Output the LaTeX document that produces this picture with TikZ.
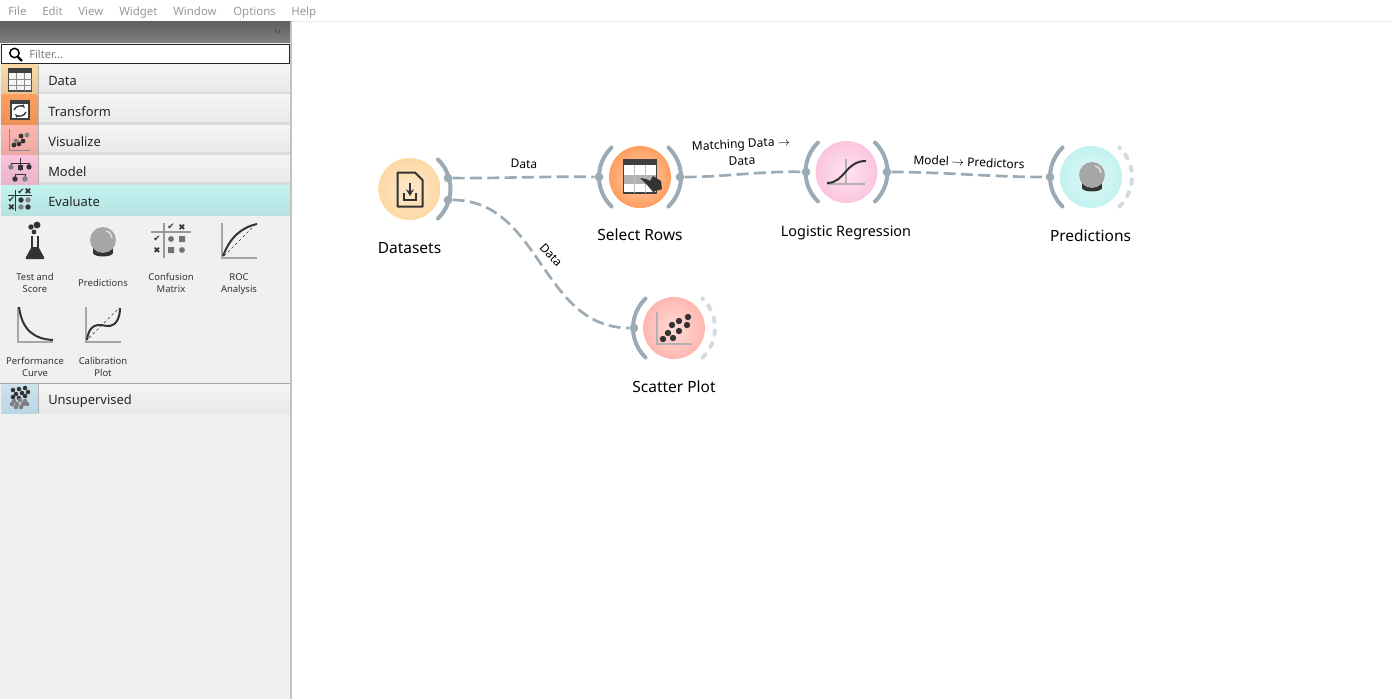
\documentclass[tikz,border=0pt]{standalone}
\usepackage{amsmath}
\usepackage{amssymb}
\usepackage{fontspec}
\setmainfont{Noto Sans}
\newfontfamily\marksfont{DejaVu Sans}
\usepackage{tikz}
\usetikzlibrary{positioning, arrows.meta, shapes.geometric, calc}

\definecolor{channel}{HTML}{9BABB5}
\definecolor{dimchannel}{HTML}{D3DBDF}
\definecolor{ink}{HTML}{333333}
\definecolor{catdata}{HTML}{FDD8A4}
\definecolor{cattransform}{HTML}{FF9E5E}
\definecolor{catvisualize}{HTML}{FFB7B0}
\definecolor{catmodel}{HTML}{FBC2DC}
\definecolor{catevaluate}{HTML}{C2F2F0}
\definecolor{catunsup}{HTML}{BAD6E6}

\tikzset{
    widget/.style={circle, minimum size=46.5pt, inner sep=0pt},
    channelarc/.style={draw=channel, line width=3pt, line cap=round},
    dimarc/.style={draw=dimchannel, line width=3pt, line cap=round, dash pattern=on 3.2pt off 6.6pt},
    link/.style={draw=channel, line width=2pt, dash pattern=on 9pt off 4pt},
    port/.style={circle, fill=channel, minimum size=6.5pt, inner sep=0pt},
    linktext/.style={font=\fontsize{9}{11}\selectfont, text=black, inner sep=0pt},
    widgettext/.style={font=\fontsize{11.6}{14}\selectfont, text=black, inner sep=0pt, anchor=base},
    menutext/.style={font=\fontsize{8.6}{10}\selectfont, text=black!40, inner sep=0pt, anchor=base west},
    cattext/.style={font=\fontsize{9.7}{12}\selectfont, text=black!85, anchor=base west, inner sep=0pt},
    tooltext/.style={font=\fontsize{7.1}{9}\selectfont, text=black!80, align=center, inner sep=0pt, anchor=base},
    marktext/.style={font=\marksfont\fontsize{6.5}{7}\selectfont, text=ink, inner sep=0pt},
    axisline/.style={draw=black!35, line width=1.5pt},
    curveline/.style={draw=ink, line width=1.5pt},
}

% crystal ball, (#1,#2) is its centre
\newcommand{\crystalball}[2]{
    \fill[ink] (#1-10,#2+8) rectangle (#1+10,#2+13);
    \fill[ink] (#1,#2+13) ellipse (7.5pt and 2.6pt);
    \fill[black!35] (#1,#2) circle (9.7pt);
    \draw[white!70!black!35, line width=1pt] (#1+3,#2-9) .. controls (#1+7,#2-8) and (#1+9,#2-5) .. (#1+9,#2-2);
}

\begin{document}
\begin{tikzpicture}[x=0.75pt, y=-0.75pt]
    \useasboundingbox[fill=white] (0,0) rectangle (1392,699);

    % Menu
    \draw[black!8] (0,21.5) -- (1392,21.5);
    \foreach \x/\word in {8/File, 42/Edit, 78/View, 119/Widget, 173/Window, 233/Options, 291/Help}
        \node[menutext] (menu\word) at (\x,16) {\word};

    % Panel
    \fill[black!6] (0,22) rectangle (291,699);
    \shade[top color=black!62, bottom color=black!50] (0,22) rectangle (291,43);
    \node[font=\fontsize{8}{9}\selectfont, text=black!75, inner sep=0pt] (collapse) at (278,32) {‹‹};
    \draw[black!85, fill=white, line width=0.8pt] (1.5,44.5) rectangle (289.5,63.5);
    \draw[black, line width=1.1pt] (14.5,53) circle (3.5pt);
    \draw[black, line width=1.6pt] (18,57) -- (22,61);
    \node[font=\fontsize{8.4}{10}\selectfont, text=black!50, anchor=base west, inner sep=0pt] (filter) at (29,59) {Filter...};

    % Categories
    \foreach \y/\col/\word in {65/catdata/Data, 95/cattransform/Transform, 125/catvisualize/Visualize, 155/catmodel/Model} {
        \shade[top color=black!4, bottom color=black!9] (38,\y) rectangle (290,\y+30);
        \fill[black!14] (38,\y+27) rectangle (290,\y+30);
        \shade[top color=\col, bottom color=\col!92!black] (1,\y) rectangle (38,\y+30);
        \draw[black!30] (38.5,\y) -- (38.5,\y+30);
        \node[cattext] (cat\word) at (48,\y+21) {\word};
    }
    \shade[top color=black!4, bottom color=black!9] (38,384) rectangle (290,413);
    \shade[top color=catunsup!70, bottom color=catunsup] (1,384) rectangle (38,413);
    \draw[black!30] (38.5,384) -- (38.5,413);
    \node[cattext] (catUnsupervised) at (48,404) {Unsupervised};
    \shade[top color=catevaluate, bottom color=catevaluate!94!black] (1,185) rectangle (290,215);
    \node[cattext] (catEvaluate) at (48,206) {Evaluate};
    \draw[black!35] (0,383.5) -- (290,383.5);
    \fill[black!24] (290,22) rectangle (292,699);

    % Data icon
    \fill[black!4] (8.5,69) rectangle (31.5,91);
    \draw[black!70, line width=0.8pt] (8.5,69) rectangle (31.5,91);
    \fill[black!75] (8,68) rectangle (32,73);
    \foreach \x in {16,24} \draw[black!45] (\x,73) -- (\x,91);
    \foreach \y in {79,85} \draw[black!45] (8.5,\y) -- (31.5,\y);
    % Transform icon
    \draw[black!75, fill=white, line width=0.8pt] (11,101) rectangle (29,119);
    \fill[black!75] (10.5,100) rectangle (29.5,104);
    \draw[ink, line width=1pt, -{Stealth[length=3pt]}] (14,110) .. controls (15,106) and (22,105) .. (25,108);
    \draw[ink, line width=1pt, -{Stealth[length=3pt]}] (26,112) .. controls (25,116) and (18,117) .. (15,114);
    % Visualize icon
    \draw[black!45, line width=0.8pt] (9.5,129) -- (9.5,150.5) -- (30,150.5);
    \foreach \x/\y/\c in {14/145/ink, 19/144/ink, 23/141/ink, 21/136/ink, 27/135/black!50, 16/141/black!50}
        \fill[\c] (\x,\y) circle (1.8pt);
    % Model icon
    \draw[ink, line width=0.7pt] (20,158) -- (20,163) (11,166) -- (11,163) -- (29,163) -- (29,166) (20,163) -- (20,171) (15,178) -- (15,174) -- (25,174) -- (25,178);
    \fill[ink] (20,167) +(-2.5,-2.5) rectangle +(2.5,2.5);
    \foreach \x/\y/\c in {11/167/black!50, 29/167/ink, 15/179/ink, 25/179/black!50}
        \fill[\c] (\x,\y) circle (2pt);
    % Evaluate icon
    \draw[ink, line width=0.7pt] (15.5,190) -- (15.5,211) (8,195.5) -- (32,195.5);
    \node[marktext] (evalchecktop) at (21,191.5) {✔};
    \node[marktext] (evalcrosstop) at (28,191.5) {✖};
    \node[marktext] (evalcheckleft) at (11.5,200) {✔};
    \node[marktext] (evalcrossleft) at (11.5,207) {✖};
    \foreach \x/\y/\c in {21/200/ink, 28/200/black!50, 21/207/black!50, 28/207/ink}
        \fill[\c] (\x,\y) circle (2pt);
    % Unsupervised icon
    \foreach \x/\y in {13/390, 19/389, 25/388, 28/392, 22/393, 16/394, 13/397, 19/398, 25/396}
        \fill[ink] (\x,\y) circle (1.7pt);
    \foreach \x/\y in {14/401, 20/400, 25/401, 12/404, 17/404, 23/404, 27/404, 16/407, 21/407}
        \fill[black!50] (\x,\y) circle (1.7pt);

    % Test and Score
    \draw[ink, line width=0.8pt] (32,236) -- (32,248) (38,236) -- (38,248);
    \fill[ink, rounded corners=1pt] (31.5,247) -- (38.5,247) -- (45,259) -- (25,259) -- cycle;
    \foreach \x/\y/\r in {31/227/2, 37/225/2.6, 34/232/1.8} \fill[ink] (\x,\y) circle (\r pt);
    \node[tooltext] (tooltest) at (35,292) {Test and\\Score};
    % Predictions
    \crystalball{103}{240}
    \node[tooltext] (toolpred) at (103,286) {Predictions};
    % Confusion Matrix
    \draw[black!40, line width=1pt] (164,223) -- (164,258) (151,232) -- (191,232);
    \node[marktext] (confchecktop) at (171,227) {✔};
    \node[marktext] (confcrosstop) at (182,227) {✖};
    \node[marktext] (confcheckleft) at (157,239) {✔};
    \node[marktext] (confcrossleft) at (157,250) {✖};
    \fill[black!55] (171,239) circle (2.2pt) (182,250) circle (2.2pt);
    \fill[black!55] (179,236) rectangle (185,242) (168,247) rectangle (174,253);
    \node[tooltext] (toolconf) at (171,292) {Confusion\\Matrix};
    % ROC Analysis
    \draw[axisline] (222,223) -- (222,258) -- (257,258);
    \draw[curveline] (223,256) .. controls (230,238) and (240,228) .. (257,224);
    \draw[ink, dash pattern=on 2pt off 2pt] (224,256) -- (252,228);
    \node[tooltext] (toolroc) at (239,292) {ROC\\Analysis};
    % Performance Curve
    \draw[axisline] (18,307) -- (18,342) -- (53,342);
    \draw[curveline] (19,307) .. controls (22,330) and (34,339) .. (53,340);
    \node[tooltext] (toolperf) at (35,376) {Performance\\Curve};
    % Calibration Plot
    \draw[axisline] (86,307) -- (86,342) -- (121,342);
    \draw[curveline] (87,340) .. controls (90,318) and (104,327) .. (110,326) .. controls (116,325) and (120,318) .. (120,308);
    \draw[ink, dash pattern=on 2pt off 2pt] (89,338) -- (118,309);
    \node[tooltext] (toolcalib) at (103,376) {Calibration\\Plot};

    % Widgets
    \node[widget, inner color=catdata!55, outer color=catdata] (datasets) at (409.5,189) {};
    \node[widget, inner color=cattransform!45, outer color=cattransform] (selectrows) at (640,177) {};
    \node[widget, inner color=catmodel!45, outer color=catmodel!95] (regression) at (846.5,172) {};
    \node[widget, inner color=catevaluate!50, outer color=catevaluate] (predictions) at (1091,177) {};
    \node[widget, inner color=catvisualize!50, outer color=catvisualize] (scatter) at (674,328) {};

    \node[widgettext] (datasetsname) at (409.5,253) {Datasets};
    \node[widgettext] (selectrowsname) at (640,240) {Select Rows};
    \node[widgettext, font=\fontsize{10.8}{14}\selectfont] (regressionname) at (846,236) {Logistic Regression};
    \node[widgettext] (predictionsname) at (1090.5,241) {Predictions};
    \node[widgettext] (scattername) at (674,392) {Scatter Plot};

    % Channels
    \foreach \w in {selectrows, regression, predictions, scatter}
        \draw[channelarc] ([shift={(134:41)}]\w.center) arc (134:226:41);
    \foreach \w in {datasets, selectrows, regression}
        \draw[channelarc] ([shift={(46:41)}]\w.center) arc (46:-46:41);
    \foreach \w in {predictions, scatter}
        \draw[dimarc] ([shift={(46:41)}]\w.center) arc (46:-46:41);

    % Ports
    \node[port] (datasetstop) at (448,178) {};
    \node[port] (datasetsbottom) at (448,200) {};
    \node[port] (selectrowsin) at (599,177) {};
    \node[port] (selectrowsout) at (680,177) {};
    \node[port] (regressionin) at (806,172) {};
    \node[port] (regressionout) at (887,172) {};
    \node[port] (predictionsin) at (1050,177) {};
    \node[port] (scatterin) at (634,328) {};

    % Links
    \draw[link] (datasetstop) .. controls (500,178.5) and (550,176) .. (selectrowsin);
    \draw[link] (selectrowsout) .. controls (725,177) and (760,171) .. (regressionin);
    \draw[link] (regressionout) .. controls (945,172) and (990,177) .. (predictionsin);
    \draw[link] (datasetsbottom) .. controls (541,200) and (541,328) .. (scatterin);

    \node[linktext, rotate=-1] (linkone) at (524,164) {Data};
    \node[linktext, rotate=3] (linktwo) at (741,145) {Matching Data $\rightarrow$};
    \node[linktext, rotate=3] (linkthree) at (742,161) {Data};
    \node[linktext, rotate=-2.5] (linkfour) at (969,162) {Model $\rightarrow$ Predictors};
    \node[linktext, rotate=-47] (linkfive) at (551,255) {Data};

    % Datasets icon
    \draw[ink, line width=1.5pt, line join=round] (397.5,172.5) -- (415,172.5) -- (422.5,180) -- (422.5,206.5) -- (397.5,206.5) -- cycle;
    \draw[ink, line width=1.5pt] (404,193) -- (404,199.5) -- (416,199.5) -- (416,193);
    \draw[ink, line width=1.5pt, -{Stealth[length=5pt, width=6pt]}] (410,183) -- (410,196);
    % Select Rows icon
    \draw[black!75, fill=white, line width=1.1pt] (623.5,160) rectangle (656.5,193);
    \fill[black!75] (623,159) rectangle (657,165);
    \fill[black!30] (624,175) rectangle (656,184);
    \foreach \x in {634.5,645.5} \draw[black!25] (\x,165) -- (\x,193);
    \fill[ink] (640,178) -- (646,179) -- (650,181) -- (653,176) -- (661,181) -- (662,189) -- (653,192) -- (648,186) -- cycle;
    % Logistic Regression icon
    \draw[black!30, line width=1.5pt] (846,159) -- (846,184) (827,184) -- (865,184);
    \draw[ink, line width=1.5pt] (827,183) .. controls (845,183) and (845,161) .. (866,161);
    % Predictions icon
    \crystalball{1092}{175}
    % Scatter Plot icon
    \draw[black!30, line width=1.2pt] (657,312) -- (657,344) -- (692,344);
    \foreach \x/\y in {663/339, 668/333, 673/338, 672/325, 679/331, 679/321, 687/325, 688/317}
        \fill[ink] (\x,\y) circle (2.4pt);
\end{tikzpicture}
\end{document}
